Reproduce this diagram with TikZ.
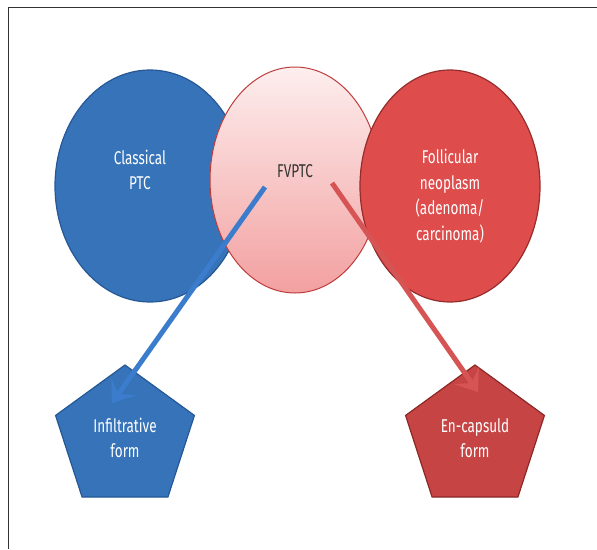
\documentclass[tikz,border=0pt]{standalone}
\usepackage{fontspec}
\setmainfont{Fira Sans}[FakeStretch=0.73]
\usetikzlibrary{shapes.geometric, arrows.meta}
\definecolor{ptcblue}{RGB}{54,115,185}
\definecolor{ptcblueline}{RGB}{38,88,150}
\definecolor{follred}{RGB}{222,76,76}
\definecolor{follredline}{RGB}{150,45,45}
\definecolor{capred}{RGB}{198,68,68}
\definecolor{capredline}{RGB}{140,40,40}
\definecolor{fvtop}{RGB}{253,238,238}
\definecolor{fvbottom}{RGB}{243,160,160}
\definecolor{fvline}{RGB}{190,60,60}
\definecolor{arrblue}{RGB}{60,124,205}
\definecolor{arrred}{RGB}{214,84,84}
\tikzstyle{bcirc} = [ellipse, draw=ptcblueline, line width=1.2pt, fill=ptcblue]
\tikzstyle{rcirc} = [ellipse, draw=follredline, line width=1.2pt, fill=follred]
\tikzstyle{pcirc} = [ellipse, draw=fvline, line width=1pt, top color=fvtop, bottom color=fvbottom]
\tikzstyle{label} = [text=white, align=center, font=\fontsize{18.5}{25.5}\selectfont]
\tikzstyle{bpent} = [regular polygon, regular polygon sides=5, minimum size=146pt, inner sep=0pt, draw=ptcblueline, line width=1.2pt, fill=ptcblue, label]
\tikzstyle{rpent} = [regular polygon, regular polygon sides=5, minimum size=146pt, inner sep=0pt, draw=capredline, line width=1.2pt, fill=capred, label]
\tikzstyle{line} = [draw, line width=5pt, -{Stealth[length=20pt, width=30pt, inset=9pt]}]
\begin{document}
\begin{tikzpicture}[x=1pt, y=-1pt]
    \useasboundingbox (0,0) rectangle (597,549);
    % frame
    \draw[line width=1pt, black!80] (8,549) -- (8,7) -- (597,7);
    % Place nodes
    \node [bcirc, minimum width=190pt, minimum height=232pt] (classical) at (150,186) {};
    \node [pcirc, minimum width=170pt, minimum height=226pt] (fvptc) at (295,180) {};
    \node [rcirc, minimum width=180pt, minimum height=232pt] (follicular) at (450,186) {};
    \node [label] (classicaltxt) at (140,170) {Classical\\PTC};
    \node [label, text=black!80] (fvptctxt) at (295,171) {FVPTC};
    \node [label] (folliculartxt) at (450,196) {Follicular\\neoplasm\\(adenoma/\\carcinoma)};
    \node [bpent] (infiltrative) at (125,438) {Infiltrative\\form};
    \node [rpent] (encapsuld) at (475,438) {En-capsuld\\form};
    \coordinate (fvleft) at (265,187);
    \coordinate (fvright) at (332,183);
    \coordinate (inftip) at (112,403);
    \coordinate (enctip) at (478,392);
    % Draw edges
    \path [line, arrblue] (fvleft) -- (inftip);
    \path [line, arrred] (fvright) -- (enctip);
\end{tikzpicture}
\end{document}
